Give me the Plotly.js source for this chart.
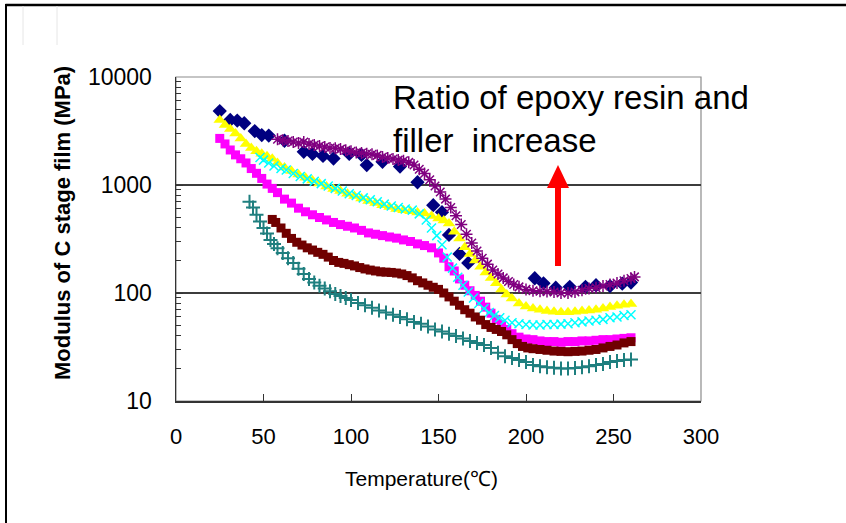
<!DOCTYPE html>
<html>
<head>
<meta charset="utf-8">
<script src="https://cdn.plot.ly/plotly-3.0.1.min.js"></script>
<style>
html,body{margin:0;padding:0;background:#fff;}
#chart{width:846px;height:523px;}
</style>
</head>
<body>
<div id="chart"></div>
<script>
// ---- data (temperature in °C, modulus in MPa) ----
const navyT = [25, 31, 35, 39, 45, 49, 53, 62, 73, 78, 84, 90, 99, 106, 109, 118, 128, 138, 147, 152, 156, 162, 167, 205, 210, 217, 225, 234, 240, 248, 255, 260];
const navyY = [4840, 4000, 3950, 3730, 3160, 2900, 2870, 2570, 2030, 1940, 1860, 1760, 1940, 1900, 1530, 1640, 1480, 1060, 650, 560, 345, 230, 190, 137, 123, 112, 114, 114, 118, 116, 122, 125];

const magentaT = [25,28,31,34,37,40,43,46,49,52,55,58,62,66,70,74,78,82,86,90,94,98,102,106,110,114,118,122,126,130,134,138,142,146,150,153,156,159,162,165,168,171,174,177,180,183,186,189,192,196,200,204,208,212,216,220,224,228,232,236,240,244,248,252,256,260];
const magentaY = [2700,2400,2110,1900,1750,1600,1420,1283,1150,1020,930,850,740,680,610,565,530,500,475,450,430,415,400,380,360,350,340,330,322,310,300,285,275,262,235,210,175,160,135,118,105,95,84,74,65,57,51,46,42,39,37.5,37,36,35.5,35.5,35,35.5,35.5,36,36,36.5,37,37,37.5,38,38.5];

const yellowT = [25,28,31,34,37,40,43,46,49,52,55,58,62,66,70,74,78,82,86,90,94,98,102,106,110,114,118,122,126,130,134,138,142,146,150,153,156,159,162,165,168,171,174,177,180,183,186,189,192,196,200,204,208,212,216,220,224,228,232,236,240,244,248,252,256,260];
const yellowY = [4000,3600,3300,3000,2700,2400,2200,2050,1950,1850,1750,1600,1450,1350,1250,1170,1100,1030,970,920,880,830,790,750,710,680,650,625,600,585,570,555,545,515,490,470,440,370,320,265,230,200,175,155,138,123,108,97,89,80,75,72,70,68,67,66.5,66.5,67,68,69,70,72,74,76,78,79];

const cyanT = [48,50,53,56,60,63,67,71,75,79,83,87,91,95,99,103,107,111,115,119,123,127,131,135,139,143,146,149,152,155,158,161,164,167,170,173,176,179,182,185,188,192,196,200,204,208,212,216,220,224,228,232,236,240,244,248,252,256,260];
const cyanY = [1800,1700,1600,1500,1420,1376,1280,1200,1140,1080,1030,980,930,880,830,800,760,730,700,665,640,620,600,585,540,475,400,340,280,215,170,140,118,102,90,80,72,66,62,59,56,53,52,51,50.5,50.5,51,51,51.5,52,53,54,55,56,57,59,60,62,63];

const purpleT = [58,61,64,67,70,73,76,79,82,85,88,91,94,97,100,103,106,109,112,115,118,121,124,127,130,133,136,139,142,145,148,151,154,157,160,163,166,169,172,175,178,181,184,187,190,193,196,200,204,208,212,216,220,224,228,232,236,240,244,248,252,256,260,262];
const purpleY = [2650,2600,2550,2500,2450,2500,2400,2350,2300,2250,2200,2190,2150,2100,2050,2000,1980,1950,1930,1880,1820,1780,1740,1700,1680,1620,1530,1400,1280,1120,980,860,740,620,520,430,350,290,245,210,185,163,150,138,128,120,114,108,105,104,103,102,100,100,102,106,110,112,116,120,124,130,136,141];

const maroonT = [55,57,60,63,66,69,72,75,78,81,84,87,90,93,96,99,102,105,108,111,114,117,120,123,126,129,132,135,138,141,144,147,150,153,156,159,162,165,168,171,174,177,180,183,186,189,192,195,198,201,204,208,212,216,220,224,228,232,236,240,244,248,252,256,260];
const maroonY = [480,450,400,357,320,295,278,262,250,238,228,215,200,192,188,183,178,172,167,163,160,157,156,155,153,150,145,138,130,124,118,113,108,100,92,84,77,70,65,60,56,51,48,46,44,41,37,34,32,31,30.5,30,29.5,29,28.8,28.6,28.8,29,29.5,30,31,32,33,34.5,35.5];

const tealT = [42,44,46,48,50,52,54,56,58,61,64,67,70,73,76,79,82,85,88,91,94,97,100,104,108,112,116,120,124,128,132,136,140,144,148,152,156,160,164,168,172,176,180,184,188,192,196,200,204,208,212,216,220,224,228,232,236,240,244,248,252,256,260];
const tealY = [700,620,530,460,400,355,310,285,260,234,210,190,168,150,135,125,117,110,104,98,94,90,86,81,77,73,69,66,63,60,57,54,52,49,46,44,42,40,38,36,34.5,33,31,28,26,25,24,23,21.5,21,20.5,20.3,20,20,20.2,20.5,21,21.5,22,23,23.5,24,24.2];

const xTickVals = [0, 50, 100, 150, 200, 250, 300];
const yTickVals = [10, 100, 1000, 10000];
const yTickText = ['10', '100', '1000', '10000'];
const yMinorVals = [20,30,40,50,60,70,80,90,200,300,400,500,600,700,800,900,2000,3000,4000,5000,6000,7000,8000,9000];

const xTitle = 'Temperature(℃)';
const yTitle = 'Modulus of C stage film (MPa)';
const note1 = 'Ratio of epoxy resin and';
const note2 = 'filler\u00A0\u00A0increase';

// ---- geometry helpers (paper coords) ----
const W = 846, H = 523, L = 176, R = 145, T = 77, B = 122;
const pw = W - L - R, ph = H - T - B;
const px = v => (v - L) / pw;
const py = v => (H - B - v) / ph;

const F = 'Liberation Sans, Arial, sans-serif';

const traces = [
  {x: navyT, y: navyY, type: 'scatter', mode: 'markers',
   marker: {symbol: 'diamond', size: 11, color: '#000080'}},
  {x: magentaT, y: magentaY, type: 'scatter', mode: 'markers',
   marker: {symbol: 'square', size: 9, color: '#FF00FF'}},
  {x: yellowT, y: yellowY, type: 'scatter', mode: 'markers',
   marker: {symbol: 'triangle-up', size: 11, color: '#FFFF00'}},
  {x: cyanT, y: cyanY, type: 'scatter', mode: 'markers',
   marker: {symbol: 'x-thin-open', size: 9, color: '#00FFFF', line: {color: '#00FFFF', width: 1.5}}},
  {x: purpleT, y: purpleY, type: 'scatter', mode: 'markers',
   marker: {symbol: 'asterisk-open', size: 10, color: '#800080', line: {color: '#800080', width: 1.5}}},
  {x: maroonT, y: maroonY, type: 'scatter', mode: 'markers',
   marker: {symbol: 'square', size: 9, color: '#700000'}},
  {x: tealT, y: tealY, type: 'scatter', mode: 'markers',
   marker: {symbol: 'cross-thin-open', size: 10, color: '#1F7F7F', line: {color: '#1F7F7F', width: 2}}}
];

const ax = {x: px(558), tip: py(165), base: py(188), tail: py(266), hw: 11 / pw};

const layout = {
  width: W, height: H,
  margin: {l: L, r: R, t: T, b: B, pad: 0},
  paper_bgcolor: '#ffffff', plot_bgcolor: '#ffffff',
  showlegend: false,
  font: {family: F, color: '#000', size: 22},
  xaxis: {
    range: [0, 300], tickvals: xTickVals, showgrid: false, zeroline: false,
    ticks: 'inside', ticklen: 7, tickcolor: '#333', tickwidth: 1,
    showline: true, linecolor: '#333', linewidth: 1.5, mirror: false,
    tickfont: {family: F, size: 22, color: '#000'}, ticklabelstandoff: 15
  },
  yaxis: {
    type: 'log', range: [1, 4], tickvals: yTickVals, ticktext: yTickText,
    showgrid: true, gridcolor: '#3c3c3c', gridwidth: 1.3, zeroline: false,
    ticks: 'inside', ticklen: 7, tickcolor: '#333', tickwidth: 1,
    minor: {tickvals: yMinorVals, ticks: 'inside', ticklen: 5, tickcolor: '#333', tickwidth: 1, showgrid: false},
    showline: true, linecolor: '#333', linewidth: 1.5,
    tickfont: {family: F, size: 23, color: '#000'}, ticklabelstandoff: 18
  },
  shapes: [
    {type: 'rect', xref: 'paper', yref: 'paper', x0: 0, x1: 1, y0: 0, y1: 1,
     line: {color: '#8c8c8c', width: 1.2}, layer: 'below'},
    {type: 'line', xref: 'paper', yref: 'paper', x0: px(5.5), x1: px(846), y0: py(5), y1: py(5),
     line: {color: '#000', width: 2.5}},
    {type: 'line', xref: 'paper', yref: 'paper', x0: px(6), x1: px(6), y0: py(4), y1: py(523),
     line: {color: '#000', width: 2}},
    {type: 'line', xref: 'paper', yref: 'paper', x0: px(23), x1: px(23), y0: py(6), y1: py(45),
     line: {color: '#e6e6e6', width: 1}},
    {type: 'line', xref: 'paper', yref: 'paper', x0: px(57), x1: px(57), y0: py(6), y1: py(45),
     line: {color: '#e6e6e6', width: 1}},
    {type: 'line', xref: 'paper', yref: 'paper', x0: ax.x, x1: ax.x, y0: ax.tail, y1: ax.base + 0.005,
     line: {color: '#FF0000', width: 6}},
    {type: 'path', xref: 'paper', yref: 'paper',
     path: `M ${ax.x - ax.hw} ${ax.base} L ${ax.x + ax.hw} ${ax.base} L ${ax.x} ${ax.tip} Z`,
     fillcolor: '#FF0000', line: {color: '#FF0000', width: 0}}
  ],
  annotations: [
    {xref: 'paper', yref: 'paper', x: px(62), y: py(223), text: yTitle, textangle: -90,
     showarrow: false, xanchor: 'center', yanchor: 'middle',
     font: {family: F, size: 22, color: '#000', weight: 'bold'}},
    {xref: 'paper', yref: 'paper', x: px(421), y: py(478), text: xTitle,
     showarrow: false, xanchor: 'center', yanchor: 'middle',
     font: {family: F, size: 21, color: '#000'}},
    {xref: 'paper', yref: 'paper', x: px(391), y: py(98), text: note1,
     showarrow: false, xanchor: 'left', yanchor: 'middle',
     font: {family: F, size: 33, color: '#000'}},
    {xref: 'paper', yref: 'paper', x: px(391), y: py(140), text: note2,
     showarrow: false, xanchor: 'left', yanchor: 'middle',
     font: {family: F, size: 33, color: '#000'}}
  ]
};

Plotly.newPlot('chart', traces, layout, {staticPlot: true, displayModeBar: false});
</script>
</body>
</html>
